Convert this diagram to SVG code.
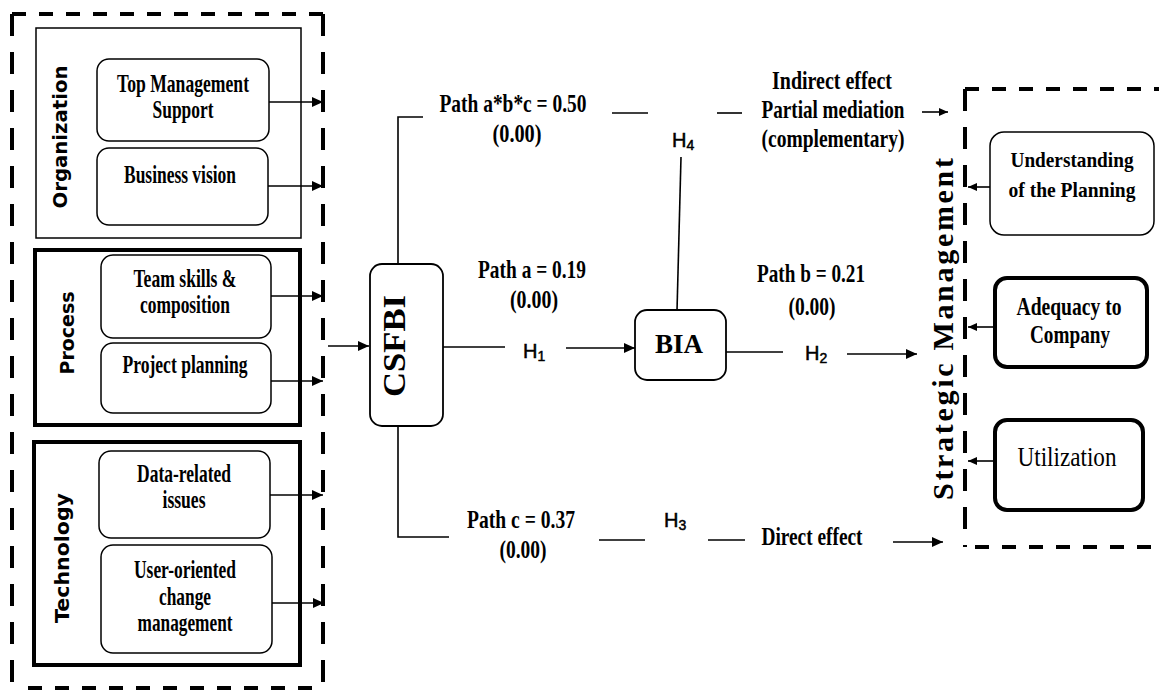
<svg xmlns="http://www.w3.org/2000/svg" width="1159" height="693" viewBox="0 0 1159 693">
<style>
.box{fill:#fff;stroke:#000;stroke-width:1.5}
.thick{stroke-width:4}
.lbl{font-family:"Liberation Serif","Times New Roman",serif;font-weight:bold;font-size:25px;text-anchor:middle;fill:#000}
.reg{font-weight:normal}
.sans{font-family:"DejaVu Sans",sans-serif;font-weight:bold;font-size:19px;text-anchor:middle;fill:#000}
.h{font-family:"Liberation Sans",Arial,sans-serif;font-size:20px;fill:#000;stroke:#000;stroke-width:0.5}
.sub{font-size:14px}
.ln{stroke:#000;stroke-width:1.6;fill:none}
.dh{stroke:#000;stroke-width:4;stroke-dasharray:14 13;fill:none}
.dv{stroke:#000;stroke-width:4;stroke-dasharray:22 16;fill:none}
.arr{marker-end:url(#ah)}
.sarr{marker-end:url(#sah)}
</style>
<defs>
<marker id="ah" viewBox="0 0 11 10" refX="11" refY="5" markerWidth="11" markerHeight="10" orient="auto" markerUnits="userSpaceOnUse"><path d="M0,0 L11,5 L0,10 Z" fill="#000"/></marker>
<marker id="sah" viewBox="0 0 9 8" refX="9" refY="4" markerWidth="9" markerHeight="8" orient="auto" markerUnits="userSpaceOnUse"><path d="M0,0 L9,4 L0,8 Z" fill="#000"/></marker>
</defs>
<rect width="1159" height="693" fill="#fff"/>

<g id="csf-group">
<line class="dh" x1="12" y1="14" x2="323" y2="14"/>
<line class="dv" x1="12" y1="14" x2="12" y2="688"/>
<line class="dv" x1="323" y1="14" x2="323" y2="688"/>
<line class="dh" x1="28" y1="688" x2="323" y2="688"/>
</g>

<g id="organization">
<rect class="box" x="36" y="28" width="265" height="210"/>
<text class="sans" transform="translate(67,137) rotate(-90)" textLength="143" lengthAdjust="spacingAndGlyphs">Organization</text>
</g>
<g id="top-management">
<rect class="box" x="97" y="59" width="172" height="82" rx="12"/>
<text class="lbl" x="183" y="92" textLength="132" lengthAdjust="spacingAndGlyphs">Top Management</text>
<text class="lbl" x="183" y="118" textLength="61" lengthAdjust="spacingAndGlyphs">Support</text>
</g>
<g id="business-vision">
<rect class="box" x="97" y="148" width="171" height="77" rx="12"/>
<text class="lbl" x="180" y="183" textLength="112" lengthAdjust="spacingAndGlyphs">Business vision</text>
</g>

<g id="process">
<rect class="box thick" x="35" y="250" width="265" height="175"/>
<text class="sans" transform="translate(74,333) rotate(-90)" textLength="83" lengthAdjust="spacingAndGlyphs">Process</text>
</g>
<g id="team-skills">
<rect class="box" x="101" y="255" width="170" height="83" rx="12"/>
<text class="lbl" x="185" y="287" textLength="103" lengthAdjust="spacingAndGlyphs">Team skills &amp;</text>
<text class="lbl" x="185" y="313" textLength="90" lengthAdjust="spacingAndGlyphs">composition</text>
</g>
<g id="project-planning">
<rect class="box" x="101" y="343" width="170" height="70" rx="12"/>
<text class="lbl" x="185" y="373" textLength="125" lengthAdjust="spacingAndGlyphs">Project planning</text>
</g>

<g id="technology">
<rect class="box thick" x="34" y="442" width="266" height="223"/>
<text class="sans" transform="translate(69,558) rotate(-90)" textLength="130" lengthAdjust="spacingAndGlyphs">Technology</text>
</g>
<g id="data-related">
<rect class="box" x="99" y="451" width="171" height="87" rx="12"/>
<text class="lbl" x="184" y="482" textLength="94" lengthAdjust="spacingAndGlyphs">Data-related</text>
<text class="lbl" x="184" y="508" textLength="43" lengthAdjust="spacingAndGlyphs">issues</text>
</g>
<g id="user-oriented">
<rect class="box" x="101" y="545" width="171" height="108" rx="12"/>
<text class="lbl" x="185" y="578" textLength="102" lengthAdjust="spacingAndGlyphs">User-oriented</text>
<text class="lbl" x="185" y="605" textLength="52" lengthAdjust="spacingAndGlyphs">change</text>
<text class="lbl" x="185" y="631" textLength="95" lengthAdjust="spacingAndGlyphs">management</text>
</g>

<g id="csfbi">
<rect class="box" x="370" y="264" width="73" height="162" rx="12" style="stroke-width:1.8"/>
<text class="lbl" style="font-size:31px" transform="translate(405,346) rotate(-90)" textLength="102" lengthAdjust="spacingAndGlyphs">CSFBI</text>
</g>
<g id="bia">
<rect class="box" x="635" y="310" width="91" height="70" rx="12" style="stroke-width:1.8"/>
<text class="lbl" style="font-size:28px" x="679" y="353" textLength="48" lengthAdjust="spacingAndGlyphs">BIA</text>
</g>

<g id="strategic-management">
<line class="dh" x1="965" y1="89" x2="1159" y2="89"/>
<line class="dv" x1="965" y1="89" x2="965" y2="547"/>
<line class="dh" x1="975" y1="547" x2="1159" y2="547"/>
<text class="lbl" style="font-size:30px" transform="translate(953,329) rotate(-90)" textLength="342" lengthAdjust="spacing">Strategic Management</text>
</g>
<g id="understanding">
<rect class="box" x="990" y="132" width="164" height="103" rx="14"/>
<text class="lbl" style="font-size:21px" x="1072" y="167" textLength="123" lengthAdjust="spacingAndGlyphs">Understanding</text>
<text class="lbl" style="font-size:21px" x="1072" y="197" textLength="127" lengthAdjust="spacingAndGlyphs">of the Planning</text>
</g>
<g id="adequacy">
<rect class="box thick" x="995" y="278" width="152" height="89" rx="12"/>
<text class="lbl" x="1069" y="315" textLength="105" lengthAdjust="spacingAndGlyphs">Adequacy to</text>
<text class="lbl" x="1070" y="343" textLength="80" lengthAdjust="spacingAndGlyphs">Company</text>
</g>
<g id="utilization">
<rect class="box thick" x="995" y="420" width="148" height="90" rx="12"/>
<text class="lbl reg" style="font-size:27px" x="1067" y="466" textLength="99" lengthAdjust="spacingAndGlyphs">Utilization</text>
</g>

<g id="connectors">
<line class="ln arr" x1="269" y1="102" x2="323" y2="102"/>
<line class="ln arr" x1="268" y1="186" x2="323" y2="186"/>
<line class="ln arr" x1="271" y1="296" x2="323" y2="296"/>
<line class="ln arr" x1="271" y1="381" x2="323" y2="381"/>
<line class="ln arr" x1="270" y1="495" x2="323" y2="495"/>
<line class="ln arr" x1="272" y1="603" x2="324" y2="603"/>
<line class="ln arr" x1="328" y1="346" x2="369" y2="346"/>
<polyline class="ln" points="398,264 398,117 423,117"/>
<line class="ln" x1="612" y1="113" x2="648" y2="113"/>
<line class="ln" x1="717" y1="113" x2="742" y2="113"/>
<line class="ln sarr" x1="922" y1="112" x2="948" y2="112"/>
<line class="ln" x1="681" y1="157" x2="677" y2="311"/>
<line class="ln" x1="443" y1="347" x2="505" y2="347"/>
<line class="ln arr" x1="566" y1="348" x2="635" y2="348"/>
<line class="ln" x1="726" y1="352" x2="783" y2="352"/>
<line class="ln arr" x1="847" y1="354" x2="917" y2="354"/>
<polyline class="ln" points="398,426 398,537 449,537"/>
<line class="ln" x1="599" y1="540" x2="645" y2="540"/>
<line class="ln" x1="708" y1="540" x2="745" y2="540"/>
<line class="ln arr" x1="893" y1="542" x2="943" y2="542"/>
<line class="ln sarr" x1="990" y1="187" x2="968" y2="187"/>
<line class="ln sarr" x1="995" y1="327" x2="968" y2="327"/>
<line class="ln sarr" x1="995" y1="461" x2="968" y2="461"/>
</g>

<g id="labels">
<text class="lbl" x="513" y="112" textLength="147" lengthAdjust="spacingAndGlyphs">Path a*b*c = 0.50</text>
<text class="lbl" x="517" y="142" textLength="49" lengthAdjust="spacingAndGlyphs">(0.00)</text>
<text class="lbl" x="532" y="278" textLength="108" lengthAdjust="spacingAndGlyphs">Path a = 0.19</text>
<text class="lbl" x="534" y="308" textLength="48" lengthAdjust="spacingAndGlyphs">(0.00)</text>
<text class="lbl" x="811" y="282" textLength="108" lengthAdjust="spacingAndGlyphs">Path b = 0.21</text>
<text class="lbl" x="812" y="315" textLength="47" lengthAdjust="spacingAndGlyphs">(0.00)</text>
<text class="lbl" x="521" y="528" textLength="108" lengthAdjust="spacingAndGlyphs">Path c = 0.37</text>
<text class="lbl" x="523" y="558" textLength="47" lengthAdjust="spacingAndGlyphs">(0.00)</text>
<text class="lbl" x="812" y="545" textLength="101" lengthAdjust="spacingAndGlyphs">Direct effect</text>
<text class="lbl" x="832" y="89" textLength="120" lengthAdjust="spacingAndGlyphs">Indirect effect</text>
<text class="lbl" x="833" y="118" textLength="143" lengthAdjust="spacingAndGlyphs">Partial mediation</text>
<text class="lbl" x="833" y="147" textLength="143" lengthAdjust="spacingAndGlyphs">(complementary)</text>
<text class="h" x="523" y="358">H<tspan class="sub" dy="3">1</tspan></text>
<text class="h" x="805" y="360">H<tspan class="sub" dy="3">2</tspan></text>
<text class="h" x="664" y="527">H<tspan class="sub" dy="3">3</tspan></text>
<text class="h" x="672" y="147">H<tspan class="sub" dy="3">4</tspan></text>
</g>
</svg>
